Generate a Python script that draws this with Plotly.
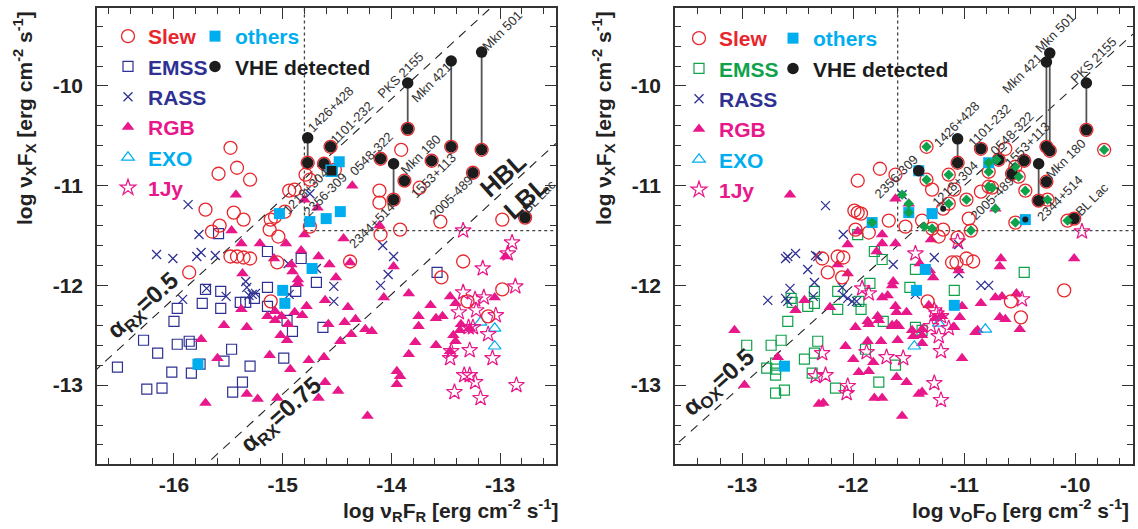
import plotly.graph_objects as go

# ======================= DATA =======================
# ---- Left panel: x = log nuR FR, y = log nuX FX
slew_L = [(-15.48,-10.62),(-15.59,-10.88),(-15.42,-10.82),(-15.30,-10.94),(-15.71,-11.24),(-15.45,-11.27),
          (-15.36,-11.34),(-15.58,-11.40),(-15.65,-11.46),(-15.86,-11.87),(-15.48,-11.71),(-15.42,-11.71),
          (-15.36,-11.72),(-15.30,-11.73),(-15.11,-11.34),(-15.07,-11.31),(-15.12,-11.44),(-15.04,-11.51),
          (-14.98,-11.26),(-14.94,-11.05),(-14.89,-11.04),(-14.79,-10.89),(-14.75,-10.94),(-14.75,-11.41),
          (-15.05,-11.77),(-15.11,-12.16),(-14.52,-10.84),(-13.91,-10.64),(-14.11,-11.05),(-14.11,-11.17),
          (-13.92,-11.44),(-14.10,-11.49),(-13.55,-11.36),(-12.98,-11.34),(-13.74,-11.02),(-14.38,-11.76),
          (-13.34,-11.76),(-13.54,-11.92),(-12.98,-12.04),(-13.30,-12.16),(-13.11,-12.31)]
emss_L = [(-15.59,-11.48),(-15.14,-11.66),(-14.83,-11.73),(-14.69,-11.97),(-15.14,-12.02),(-14.88,-12.06),
          (-15.71,-12.04),(-15.57,-12.06),(-15.74,-12.18),(-15.57,-12.23),(-15.39,-12.17),(-15.34,-12.17),
          (-15.26,-12.13),(-15.14,-12.21),(-15.97,-12.23),(-16.00,-12.36),(-14.96,-12.35),(-14.91,-12.46),
          (-16.28,-12.55),(-15.97,-12.59),(-15.86,-12.56),(-15.84,-12.59),(-16.15,-12.68),(-15.47,-12.64),
          (-15.54,-12.76),(-15.30,-12.81),(-16.52,-12.82),(-15.76,-12.79),(-16.02,-12.87),(-15.84,-12.88),
          (-15.37,-12.97),(-16.25,-13.04),(-16.11,-13.03),(-15.46,-13.07),(-14.99,-12.73),(-14.63,-12.42),
          (-13.58,-11.87)]
rass_L = [(-15.87,-11.19),(-15.77,-11.49),(-16.16,-11.69),(-16.01,-11.73),(-15.79,-11.71),(-15.75,-11.67),
          (-15.62,-11.70),(-15.70,-12.03),(-15.92,-12.14),(-15.52,-12.11),(-15.34,-11.96),(-15.33,-12.02),
          (-15.31,-12.10),(-15.28,-12.09),(-15.25,-12.08),(-14.94,-12.09),(-14.95,-11.78),(-14.75,-11.08),
          (-14.08,-11.60),(-13.98,-11.71),(-14.03,-11.89),(-14.10,-12.00),(-14.53,-12.01),(-14.53,-12.16),
          (-14.69,-11.83)]
rgb_L = [(-15.43,-11.09),(-15.47,-11.45),(-15.38,-11.58),(-15.21,-11.58),(-14.97,-11.58),(-15.08,-11.73),
         (-14.83,-11.65),(-14.80,-11.49),(-14.67,-11.71),(-15.37,-11.88),(-14.92,-11.79),(-14.91,-11.86),
         (-14.86,-11.94),(-14.86,-11.98),(-15.38,-12.24),(-15.54,-12.40),(-15.33,-12.42),(-15.14,-12.31),
         (-15.07,-12.35),(-15.07,-12.26),(-15.01,-12.31),(-14.95,-12.39),(-14.89,-12.27),(-14.82,-12.30),
         (-14.78,-12.21),(-15.02,-12.50),(-14.96,-12.55),(-15.75,-12.54),(-15.60,-12.73),(-15.12,-12.70),
         (-14.93,-12.84),(-15.33,-13.09),(-15.23,-13.14),(-15.05,-13.13),(-15.71,-13.18),(-14.76,-12.75),
         (-14.62,-12.72),(-14.61,-12.97),(-14.61,-12.15),(-14.44,-11.53),(-14.57,-11.79),(-14.51,-11.92),
         (-13.98,-11.81),(-14.07,-12.12),(-13.84,-12.08),(-14.40,-12.22),(-14.33,-12.34),(-14.43,-12.37),
         (-14.58,-12.39),(-14.37,-12.49),(-14.24,-12.44),(-14.18,-12.46),(-14.47,-12.56),(-14.49,-13.06),
         (-14.67,-13.13),(-14.22,-13.31),(-13.95,-12.86),(-13.92,-12.91),(-13.95,-12.99),(-13.84,-12.69),
         (-13.78,-12.57),(-13.75,-12.41),(-13.75,-12.31),(-13.64,-12.20),(-13.59,-12.33),(-13.53,-12.31),
         (-13.46,-12.11),(-13.59,-12.60),(-13.41,-12.18),(-13.43,-12.50),(-13.41,-12.56),(-13.36,-12.39),
         (-13.37,-12.45),(-13.28,-12.43),(-13.05,-12.12),(-12.95,-11.71),(-13.46,-12.66),(-14.36,-11.00),
         (-14.11,-11.40),(-14.80,-11.14),(-14.68,-11.22),(-14.38,-11.77)]
exo_L = [(-13.18,-12.37),(-13.05,-12.43),(-13.05,-12.61)]
jy1_L = [(-13.34,-11.45),(-12.89,-11.57),(-12.93,-11.68),(-13.16,-11.83),(-12.86,-12.01),(-13.34,-12.07),
         (-13.23,-12.14),(-13.15,-12.12),(-13.38,-12.27),(-13.22,-12.25),(-13.04,-12.30),(-13.29,-12.42),
         (-13.25,-12.42),(-13.11,-12.49),(-13.28,-12.65),(-13.45,-12.66),(-13.46,-12.73),(-13.07,-12.73),
         (-13.33,-12.90),(-13.28,-12.90),(-13.23,-12.97),(-13.42,-13.07),(-13.18,-13.13),(-12.85,-13.00)]
others_L = [(-15.03,-11.28),(-14.75,-11.36),(-14.60,-11.33),(-14.47,-11.26),(-14.48,-10.76),(-14.73,-11.83),
            (-15.00,-12.05),(-14.98,-12.18),(-15.78,-12.79)]
vhe_others_L = [(-14.55,-10.85)]          # 2356-309 (VHE, "others")
vhe_L_name = ["1426+428","1101-232","1218+304","PKS 2155","Mkn 421","Mkn 501",
              "0548-322","2344+514","Mkn 180","1553+113","2005-489","BL Lac"]
vhe_L_x = [-14.77,-14.56,-14.62,-13.85,-13.45,-13.17,-14.10,-13.98,-13.88,-13.63,-13.25,-12.77]
vhe_L_y = [-10.77,-10.61,-10.78,-10.43,-10.61,-10.64,-10.73,-11.14,-10.95,-10.75,-10.87,-11.32]
vhe_L_yhigh = [-10.52,None,None,-9.97,-9.75,-9.66,None,-10.78,None,None,None,None]
labels_L = [("1426+428",-14.56,-10.24),("1101-232",-14.36,-10.37),("PKS 2155",-13.92,-9.89),
            ("Mkn 421",-13.63,-9.97),("Mkn 501",-12.98,-9.44),("0548-322",-14.18,-10.68),
            ("Mkn 180",-13.73,-10.69),("1553+113",-13.61,-10.90),("2005-489",-13.45,-11.12),
            ("BL Lac",-12.64,-11.11),("1218+304",-14.79,-11.06),("2356-309",-14.61,-11.09),
            ("2344+514",-14.18,-11.40)]
alpha_rx_c = [3.87, 1.91]                 # alpha_RX = 0.5, 0.75 : y = x + c
cut_L = (-14.8, -11.45)

# ---- Right panel: x = log nuO FO, y = log nuX FX
slew_R = [(-11.76,-10.83),(-11.62,-10.89),(-11.96,-10.95),(-11.99,-11.25),(-11.96,-11.27),(-11.93,-11.28),
          (-11.98,-11.44),(-11.86,-11.47),(-11.68,-11.35),(-11.53,-11.41),(-11.38,-11.35),(-11.29,-11.04),
          (-11.23,-11.51),(-11.19,-11.44),(-11.06,-11.52),(-11.09,-11.04),(-10.96,-11.33),(-10.85,-11.06),
          (-10.63,-10.63),(-11.11,-11.77),(-11.07,-11.77),(-10.98,-11.73),(-10.92,-11.76),(-11.33,-12.16),
          (-10.58,-12.16),(-10.49,-12.32),(-10.10,-12.05),(-12.28,-11.73),(-12.14,-11.71),(-12.09,-11.72),
          (-12.23,-11.87),(-12.10,-11.92),(-11.19,-11.23)]
emss_R = [(-11.96,-11.49),(-11.81,-11.66),(-11.74,-11.74),(-11.85,-11.98),(-11.95,-12.16),(-11.93,-12.24),
          (-12.14,-12.06),(-12.14,-12.24),(-12.35,-12.06),(-12.35,-12.18),(-12.41,-12.21),(-12.56,-12.13),
          (-12.55,-12.17),(-12.59,-12.36),(-11.73,-12.36),(-12.96,-12.60),(-12.74,-12.60),(-12.65,-12.55),
          (-12.32,-12.56),(-12.35,-12.68),(-12.44,-12.74),(-12.78,-12.83),(-12.70,-12.78),(-12.70,-12.84),
          (-12.70,-12.90),(-12.37,-12.88),(-12.70,-13.08),(-12.62,-13.05),(-12.16,-13.03),(-11.89,-12.64),
          (-11.62,-12.80),(-11.77,-12.97),(-11.44,-11.84),(-11.49,-12.02),(-11.44,-12.42),(-11.38,-12.45),
          (-11.09,-12.05),(-10.46,-11.87)]
rass_R = [(-12.25,-11.20),(-12.09,-11.49),(-12.61,-11.73),(-12.59,-11.71),(-12.52,-11.68),(-12.34,-11.70),
          (-12.32,-11.71),(-12.41,-11.84),(-12.35,-11.97),(-12.57,-12.03),(-12.77,-12.15),(-12.61,-12.13),
          (-12.59,-12.16),(-12.10,-12.02),(-12.09,-12.10),(-12.05,-12.13),(-12.01,-12.16),(-11.97,-12.16),
          (-11.64,-11.79),(-12.36,-12.11),(-11.44,-12.09),(-11.27,-11.72),(-11.05,-11.59),(-11.05,-11.88),
          (-10.85,-12.00),(-10.78,-12.00),(-11.56,-11.09)]
rgb_R = [(-12.57,-11.09),(-13.07,-12.45),(-12.98,-13.00),(-11.96,-11.46),(-11.74,-11.49),(-11.74,-11.58),
         (-11.62,-11.58),(-11.62,-11.13),(-12.05,-11.59),(-11.79,-11.66),(-12.14,-11.79),(-12.05,-11.88),
         (-11.64,-11.96),(-11.65,-12.00),(-12.44,-12.15),(-12.52,-12.25),(-12.21,-12.22),(-11.74,-12.12),
         (-11.69,-12.10),(-11.62,-12.21),(-11.61,-12.27),(-11.87,-12.36),(-11.86,-12.39),(-11.78,-12.31),
         (-11.77,-12.35),(-11.98,-12.42),(-11.65,-12.40),(-11.61,-12.39),(-12.07,-12.61),(-11.87,-12.56),
         (-11.75,-12.56),(-11.60,-12.55),(-12.00,-12.74),(-11.86,-12.86),(-11.95,-12.87),(-11.82,-12.77),
         (-11.61,-12.92),(-11.81,-13.13),(-11.74,-13.13),(-12.31,-13.19),(-12.27,-13.18),(-11.56,-13.31),
         (-12.68,-12.72),(-11.52,-12.97),(-11.41,-13.09),(-11.38,-13.07),(-11.46,-12.51),(-11.38,-12.58),
         (-11.52,-12.27),(-11.47,-12.45),(-11.38,-12.50),(-11.38,-12.44),(-11.40,-11.78),(-11.31,-11.85),
         (-11.28,-11.92),(-11.32,-12.20),(-11.26,-12.33),(-11.20,-12.31),(-11.10,-12.42),(-11.09,-12.42),
         (-11.02,-12.21),(-11.04,-12.32),(-11.02,-12.73),(-10.85,-12.18),(-10.90,-12.47),(-10.88,-12.45),
         (-10.72,-12.12),(-10.66,-12.11),(-10.68,-12.32),(-10.63,-12.34),(-10.53,-12.08),(-10.50,-12.44),
         (-10.67,-11.73),(-10.68,-11.81),(-10.01,-11.73),(-11.30,-11.54),(-11.05,-11.85),(-11.50,-11.18),
         (-10.72,-11.23),(-11.59,-12.41),(-11.65,-12.41)]
exo_R = [(-11.45,-12.61),(-11.23,-12.38),(-10.81,-12.44)]
jy1_R = [(-11.92,-12.03),(-11.86,-12.08),(-12.28,-12.68),(-12.34,-12.91),(-12.25,-12.90),(-12.05,-13.01),
         (-12.06,-13.08),(-11.88,-12.67),(-11.70,-12.72),(-11.55,-12.73),(-11.44,-11.68),(-11.27,-12.25),
         (-11.25,-12.28),(-11.21,-12.31),(-11.30,-12.41),(-11.23,-12.51),(-11.21,-12.66),(-11.27,-12.98),
         (-11.21,-13.15),(-11.06,-11.56),(-10.48,-12.14),(-9.94,-11.46),(-11.14,-12.43)]
others_R = [(-11.83,-11.37),(-12.62,-12.81),(-11.35,-11.84),(-11.43,-12.05),(-11.09,-12.20),(-11.50,-11.27),
            (-11.29,-11.28),(-10.78,-10.77),(-10.45,-11.34),(-11.41,-10.85)]
# EMSS sources also detected in the Slew survey (green diamonds); flag = red Slew ring around it
emss_slew_R = [(-11.34,-10.61,1),(-11.34,-10.94,1),(-11.14,-10.89,1),(-11.14,-11.18,1),(-10.98,-11.14,1),
               (-10.94,-11.45,1),(-10.78,-10.86,1),(-10.78,-10.77,0),(-10.78,-11.01,1),(-10.75,-11.02,1),
               (-10.71,-10.74,0),(-10.54,-10.81,1),(-10.51,-10.91,1),(-10.45,-11.05,1),(-10.72,-11.23,0),
               (-10.54,-11.37,1),(-10.25,-11.14,1),(-10.07,-11.35,1),(-9.74,-10.64,1),(-11.50,-11.18,0),
               (-11.56,-11.09,0),(-11.29,-11.43,1),(-11.36,-11.41,0),(-11.50,-11.27,0),(-11.83,-11.37,0)]
vhe_R_name = ["1426+428","1101-232","0548-322","1553+113","2005-489","2344+514",
              "Mkn 180","Mkn 421","Mkn 501","PKS 2155","BL Lac"]
vhe_R_x = [-11.06,-10.85,-10.69,-10.46,-10.57,-10.33,-10.26,-10.26,-10.23,-9.90,-10.01]
vhe_R_y = [-10.77,-10.63,-10.74,-10.75,-10.88,-11.15,-10.96,-10.61,-10.65,-10.44,-11.33]
vhe_R_yhigh = [-10.53,None,None,None,None,-10.78,None,-9.76,-9.67,-9.97,None]
vhe_plain_R = [(-11.41,-10.85)]           # 2356-309
vhe_small_R = [(-11.19,-11.23),(-10.45,-11.34)]
labels_R = [("Mkn 501",-10.18,-9.46),("Mkn 421",-10.48,-9.87),("PKS 2155",-9.84,-9.74),
            ("1426+428",-11.07,-10.39),("1101-232",-10.77,-10.40),("0548-322",-10.57,-10.48),
            ("1553+113",-10.43,-10.59),("Mkn 180",-10.08,-10.73),("2344+514",-10.14,-11.13),
            ("BL Lac",-9.85,-11.14),("2356-309",-11.61,-10.91),("1218+304",-11.08,-10.98),
            ("2005-489",-10.75,-11.13)]
alpha_ox_c = [0.0]                        # alpha_OX = 0.5 : y = x + c
cut_R = (-11.6, -11.45)

xticks_L = [-16, -15, -14, -13]
xticks_R = [-13, -12, -11, -10]
yticks = [-13, -12, -11, -10]

# ======================= STYLE =======================
W, H = 1138, 529
FONT = "Liberation Sans, Arial, Helvetica, sans-serif"
RED = "#e8262d"; NAVY = "#2e3192"; GREEN = "#10a24b"; MAG = "#e8178a"
CYAN = "#00aeef"; BLACK = "#1c1c1c"; TXT = "#333333"

fig = go.Figure()

def xs(p): return [q[0] for q in p]
def ys(p): return [q[1] for q in p]

def pts(p, xa, ya, symbol, size, color, name=None, legend=None, rank=1000, lw=1.3, lcolor=None):
    fig.add_trace(go.Scatter(
        x=xs(p), y=ys(p), mode="markers", xaxis=xa, yaxis=ya, hoverinfo="skip",
        marker=dict(symbol=symbol, size=size, color=color,
                    line=dict(width=lw, color=lcolor if lcolor else color)),
        name=name if name else "", showlegend=name is not None,
        legend=legend if legend else "legend", legendrank=rank))

def col(txt, c):
    return "<span style='color:%s'>%s</span>" % (c, txt)

def lines(xa, ya, cuts, cvals, xlo, xhi, vx, vy, vyh):
    for c in cvals:
        fig.add_trace(go.Scatter(x=[xlo, xhi], y=[xlo + c, xhi + c], mode="lines", xaxis=xa, yaxis=ya,
                                 line=dict(color="#222", width=1.1, dash="9px,7px"),
                                 showlegend=False, hoverinfo="skip"))
    cx, cy = cuts
    fig.add_trace(go.Scatter(x=[cx, cx, xhi], y=[-8.5, cy, cy], mode="lines", xaxis=xa, yaxis=ya,
                             line=dict(color="#444", width=1.3, dash="dot"),
                             showlegend=False, hoverinfo="skip"))
    lx, ly = [], []
    for x, y, yh in zip(vx, vy, vyh):
        if yh is not None:
            lx += [x, x, None]; ly += [y, yh, None]
    fig.add_trace(go.Scatter(x=lx, y=ly, mode="lines", xaxis=xa, yaxis=ya,
                             line=dict(color="#555", width=1.8), showlegend=False, hoverinfo="skip"))

# ---------------- left panel
lines("x", "y", cut_L, alpha_rx_c, -17.5, -12.0, vhe_L_x, vhe_L_y, vhe_L_yhigh)
pts(emss_L, "x", "y", "square-open", 10, NAVY, col("EMSS", NAVY), "legend", 2, lw=1.2)
pts(rass_L, "x", "y", "x-thin", 9, NAVY, col("RASS", NAVY), "legend", 3, lw=1.3)
pts(rgb_L, "x", "y", "triangle-up", 11, MAG, col("RGB", MAG), "legend", 4, lw=0)
pts(exo_L, "x", "y", "triangle-up-open", 11, CYAN, col("EXO", CYAN), "legend", 5, lw=1.2)
pts(jy1_L, "x", "y", "star-open", 12, MAG, col("1Jy", MAG), "legend", 6, lw=1.2)
slew_all_L = slew_L + list(zip(vhe_L_x, vhe_L_y))
pts(slew_all_L, "x", "y", "circle-open", 13, RED, col("Slew", RED), "legend", 1, lw=1.3)
pts(others_L, "x", "y", "square", 11, CYAN, col("others", CYAN), "legend2", 1, lw=0)
vhe_pts_L = list(zip(vhe_L_x, vhe_L_y)) + [(x, y) for x, y in zip(vhe_L_x, vhe_L_yhigh) if y is not None]
pts(vhe_pts_L, "x", "y", "circle", 11.5, BLACK, "VHE detected", "legend2", 2, lw=0)
pts(vhe_others_L, "x", "y", "square", 11, BLACK, None, lw=1.5, lcolor=CYAN)

# ---------------- right panel
lines("x2", "y2", cut_R, alpha_ox_c, -14.0, -9.0, vhe_R_x, vhe_R_y, vhe_R_yhigh)
pts(emss_R, "x2", "y2", "square-open", 10, GREEN, col("EMSS", GREEN), "legend3", 2, lw=1.2)
pts(rass_R, "x2", "y2", "x-thin", 9, NAVY, col("RASS", NAVY), "legend3", 3, lw=1.3)
pts(rgb_R, "x2", "y2", "triangle-up", 11, MAG, col("RGB", MAG), "legend3", 4, lw=0)
pts(exo_R, "x2", "y2", "triangle-up-open", 11, CYAN, col("EXO", CYAN), "legend3", 5, lw=1.2)
pts(jy1_R, "x2", "y2", "star-open", 12, MAG, col("1Jy", MAG), "legend3", 6, lw=1.2)
slew_all_R = (slew_R + [(x, y) for x, y, r in emss_slew_R if r]
              + list(zip(vhe_R_x, vhe_R_y)))
pts(slew_all_R, "x2", "y2", "circle-open", 13, RED, col("Slew", RED), "legend3", 1, lw=1.3)
pts(others_R, "x2", "y2", "square", 11, CYAN, col("others", CYAN), "legend4", 1, lw=0)
vhe_pts_R = (list(zip(vhe_R_x, vhe_R_y)) + [(x, y) for x, y in zip(vhe_R_x, vhe_R_yhigh) if y is not None]
             + vhe_plain_R)
pts(vhe_pts_R, "x2", "y2", "circle", 11.5, BLACK, "VHE detected", "legend4", 2, lw=0)
pts(vhe_small_R, "x2", "y2", "circle", 6, BLACK, None, lw=0)
pts([(x, y) for x, y, r in emss_slew_R], "x2", "y2", "diamond", 8, GREEN, None, lw=0)

# ---------------- annotations
ann = []
for t, x, y in labels_L:
    ann.append(dict(x=x, y=y, xref="x", yref="y", text=t, textangle=-45, showarrow=False,
                    font=dict(family=FONT, size=13, color=TXT)))
for t, x, y in labels_R:
    ann.append(dict(x=x, y=y, xref="x2", yref="y2", text=t, textangle=-45, showarrow=False,
                    font=dict(family=FONT, size=13, color=TXT)))
big = dict(family=FONT, size=24, color="#222", weight="bold")
ann += [
    dict(x=-16.28, y=-12.21, xref="x", yref="y", text="α<sub>RX</sub>=0.5", textangle=-42, showarrow=False, font=big),
    dict(x=-15.01, y=-13.30, xref="x", yref="y", text="α<sub>RX</sub>=0.75", textangle=-42, showarrow=False, font=big),
    dict(x=-12.98, y=-10.89, xref="x", yref="y", text="HBL", textangle=-42, showarrow=False, font=dict(big, size=25)),
    dict(x=-12.77, y=-11.12, xref="x", yref="y", text="LBL", textangle=-42, showarrow=False, font=dict(big, size=25)),
    dict(x=-13.21, y=-12.98, xref="x2", yref="y2", text="α<sub>OX</sub>=0.5", textangle=-42, showarrow=False, font=big),
]
tfont = dict(family=FONT, size=21, color="#222", weight="bold")
unit = " [erg cm<sup>-2</sup> s<sup>-1</sup>]"
ann += [
    dict(x=560 / W, y=1 - 510 / H, xref="paper", yref="paper", xanchor="right", yanchor="middle",
         text="log ν<sub>R</sub>F<sub>R</sub>" + unit, showarrow=False, font=tfont),
    dict(x=1131 / W, y=1 - 510 / H, xref="paper", yref="paper", xanchor="right", yanchor="middle",
         text="log ν<sub>O</sub>F<sub>O</sub>" + unit, showarrow=False, font=tfont),
    dict(x=24 / W, y=1 - 118 / H, xref="paper", yref="paper", xanchor="center", yanchor="middle",
         textangle=-90, text="log ν<sub>X</sub>F<sub>X</sub>" + unit, showarrow=False, font=tfont),
    dict(x=603 / W, y=1 - 118 / H, xref="paper", yref="paper", xanchor="center", yanchor="middle",
         textangle=-90, text="log ν<sub>X</sub>F<sub>X</sub>" + unit, showarrow=False, font=tfont),
]

# ---------------- axes
tickfont = dict(family=FONT, size=21, color="#222", weight="bold")
def axis(dom, rng, tv, standoff):
    return dict(domain=dom, range=rng, tickmode="array", tickvals=tv, ticktext=[str(v) for v in tv],
                ticks="inside", ticklen=11, tickwidth=1.3, tickcolor="#333",
                minor=dict(tickmode="linear", tick0=0, dtick=0.2, ticks="inside", ticklen=6,
                           tickwidth=1.2, tickcolor="#333"),
                showline=True, linecolor="#333", linewidth=1.6, mirror="allticks",
                showgrid=False, zeroline=False, tickfont=tickfont, ticklabelstandoff=standoff,
                fixedrange=True)

ydom = [1 - 464 / H, 1 - 8 / H]
yrng = [-13.791, -9.218]
fig.update_layout(
    width=W, height=H, margin=dict(l=0, r=0, t=0, b=0, autoexpand=False),
    paper_bgcolor="white", plot_bgcolor="white", showlegend=True,
    xaxis=axis([97 / W, 556 / W], [-16.708, -12.486], xticks_L, 1),
    yaxis=axis(ydom, yrng, yticks, 8) | dict(anchor="x"),
    xaxis2=axis([675 / W, 1133 / W], [-13.606, -9.480], xticks_R, 1) | dict(anchor="y2"),
    yaxis2=axis(ydom, yrng, yticks, 8) | dict(anchor="x2"),
    annotations=ann,
)
lg = dict(xanchor="left", yanchor="top", bgcolor="rgba(0,0,0,0)", borderwidth=0,
          font=dict(family=FONT, size=21, color=BLACK, weight="bold"), traceorder="normal",
          itemclick=False, itemdoubleclick=False)
fig.update_layout(
    legend=dict(lg, x=108 / W, y=1 - 16 / H),
    legend2=dict(lg, x=195 / W, y=1 - 16 / H),
    legend3=dict(lg, x=679 / W, y=1 - 18 / H),
    legend4=dict(lg, x=773 / W, y=1 - 18 / H),
)

fig.write_html("out.html")
